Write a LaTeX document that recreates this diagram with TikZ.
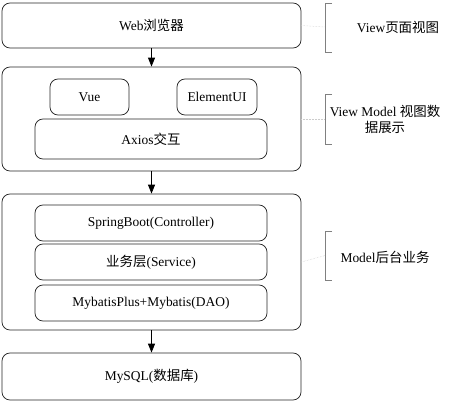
\documentclass[tikz,border=0pt]{standalone}
\usepackage{fontspec}
\setmainfont{Liberation Serif}
\newfontfamily\zhfont{Noto Sans CJK SC}
\newcommand{\zh}[1]{{\zhfont #1}}
\usepackage{tikz}
\usetikzlibrary{arrows.meta}
\usetikzlibrary{calc}

\begin{document}
\begin{tikzpicture}[x=1bp, y=-1bp, line width=0.75bp,
        font=\fontsize{13.5}{16.5}\selectfont,
        outer_style/.style={rectangle,rounded corners=8bp,draw=black!85,minimum width=299bp,inner sep=0pt},
        inner_style/.style={rectangle,rounded corners=8bp,draw=black!85,minimum height=36bp,inner sep=0pt},
        edge_style/.style={draw=black, line width=0.75bp,-{Triangle[width=7bp,length=9bp]}},
        brace_style/.style={draw=black!50, line width=0.75bp},
        hint_style/.style={draw=black!20, line width=0.5bp, densely dotted},
        label_style/.style={align=center, inner sep=0pt}]

        \useasboundingbox (0,0) rectangle (474,404);

        \node [outer_style, minimum height=45bp](web) at (151.5,25.5) {Web\zh{浏览器}};

        \node [outer_style, minimum height=104bp](vm) at (151.5,119) {};

        \node [inner_style, minimum width=79bp](vue) at (89.5,97) {Vue};

        \node [inner_style, minimum width=80bp](elem) at (217,97) {ElementUI};

        \node [inner_style, minimum width=232bp, minimum height=40bp](axios) at (151,139) {Axios\zh{交互}};

        \node [outer_style, minimum height=136bp](model) at (151.5,262) {};

        \node [inner_style, minimum width=232bp](ctrl) at (151,223) {SpringBoot(Controller)};

        \node [inner_style, minimum width=232bp](service) at (151,262) {\zh{业务层}(Service)};

        \node [inner_style, minimum width=232bp](dao) at (151,303) {MybatisPlus+Mybatis(DAO)};

        \node [outer_style, minimum height=47bp](mysql) at (151.5,376.5) {MySQL(\zh{数据库})};

        \draw [edge_style] (web) -- (vm);

        \draw [edge_style] (vm) -- (model);

        \draw [edge_style] (model) -- (mysql);

        % brackets on the right
        \coordinate (b1) at (325,27);
        \coordinate (b2) at (325,119);
        \coordinate (b3) at (325,255.5);

        \draw [brace_style] ($(b1)+(7,-24)$) -- ($(b1)+(0,-24)$) -- ($(b1)+(0,25)$) -- ($(b1)+(7,25)$);

        \draw [brace_style] ($(b2)+(7,-25)$) -- ($(b2)+(0,-25)$) -- ($(b2)+(0,25)$) -- ($(b2)+(7,25)$);

        \draw [brace_style] ($(b3)+(7,-24.5)$) -- ($(b3)+(0,-24.5)$) -- ($(b3)+(0,24.5)$) -- ($(b3)+(7,24.5)$);

        \draw [hint_style] (web.east) -- (b1);

        \draw [hint_style] (vm.east) -- (b2);

        \draw [hint_style] (model.east) -- (b3);

        \node [label_style](l1) at (398,27) {View\zh{页面视图}};

        \node [label_style](l2) at (385,119.5) {View Model \zh{视图数}\\\zh{据展示}};

        \node [label_style](l3) at (385,257) {Model\zh{后台业务}};

        \end{tikzpicture}
\end{document}
